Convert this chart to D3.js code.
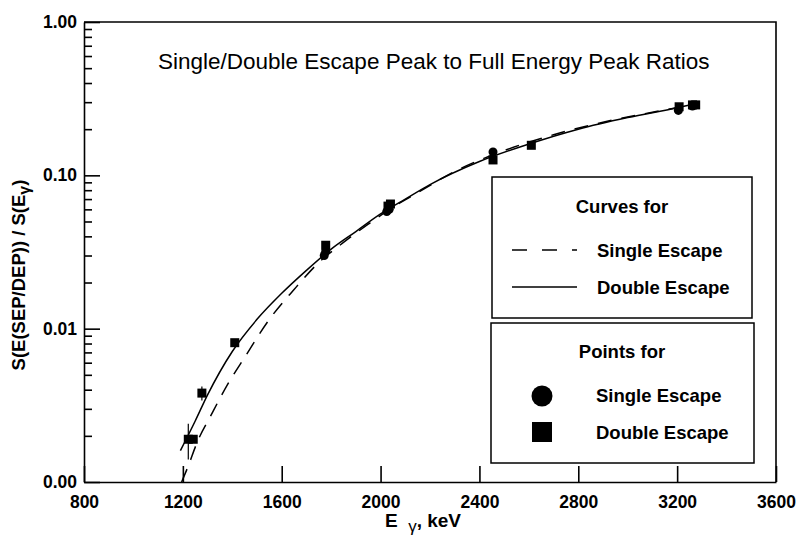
<!DOCTYPE html>
<html>
<head>
<meta charset="utf-8">
<script src="https://cdn.jsdelivr.net/npm/d3@7"></script>
<style>
  body { margin: 0; background: #fff; }
  svg { display: block; font-family: "Liberation Sans", Arial, sans-serif; }
</style>
</head>
<body>
<div id="chart"></div>
<script>
// data
const xTicks = [800, 1200, 1600, 2000, 2400, 2800, 3200, 3600];
const yTicks = [0.001, 0.01, 0.1, 1];
const yTickLabels = ["0.00", "0.01", "0.10", "1.00"];

// fitted curves (keV, ratio)
const curveSingleE = [1195, 1220, 1260, 1310, 1380, 1450, 1550, 1650, 1750, 1850, 1950, 2050, 2150, 2300, 2500, 2700, 2900, 3100, 3260];
const curveSingleR = [0.00100, 0.00125, 0.00185, 0.00265, 0.0043, 0.0065, 0.0115, 0.0180, 0.0270, 0.0365, 0.0480, 0.0620, 0.0770, 0.106, 0.145, 0.184, 0.222, 0.258, 0.288];
const curveDoubleE = [1190, 1250, 1300, 1400, 1500, 1600, 1700, 1800, 1900, 2000, 2100, 2200, 2400, 2600, 2800, 3000, 3200, 3260];
const curveDoubleR = [0.0016, 0.0025, 0.0037, 0.0071, 0.0115, 0.0170, 0.0240, 0.0330, 0.0430, 0.0560, 0.0700, 0.0870, 0.123, 0.160, 0.200, 0.238, 0.276, 0.290];

// measured points
const sepE = [1772, 1778, 2025, 2035, 2455, 3205, 3262];
const sepR = [0.030, 0.032, 0.058, 0.060, 0.142, 0.265, 0.283];
const depE = [1222, 1242, 1277, 1410, 1778, 2030, 2040, 2455, 2610, 3208, 3262, 3275];
const depR = [0.0019, 0.0019, 0.0038, 0.0081, 0.035, 0.063, 0.065, 0.126, 0.157, 0.280, 0.288, 0.288];
const depErr = [0.0005, 0, 0.0004, 0.0003, 0.002, 0.003, 0, 0.004, 0.004, 0.008, 0, 0];

const W = 800, H = 542;
const margin = {top: 22, right: 24, bottom: 60, left: 84};

const svg = d3.select("#chart").append("svg")
    .attr("width", W)
    .attr("height", H);

const x = d3.scaleLinear().domain([800, 3600]).range([margin.left, W - margin.right]);
const y = d3.scaleLog().domain([0.001, 1]).range([H - margin.bottom, margin.top]);

// minor ticks 2..9 in each decade
let minor = [];
[0.001, 0.01, 0.1].forEach(d => {
    for (let k = 2; k <= 9; k++) minor.push(d * k);
});

// y axis, ticks pointing inward
const yAxis = svg.append("g")
    .attr("transform", `translate(${x(800)},0)`)
    .call(d3.axisLeft(y).tickValues(yTicks)
        .tickFormat((d, i) => yTickLabels[i])
        .tickSizeInner(-16).tickSizeOuter(0).tickPadding(7));
yAxis.selectAll("text")
    .attr("font-family", "Liberation Sans, Arial, sans-serif")
    .attr("font-size", 17.5).attr("font-weight", "bold").attr("fill", "#000");

svg.append("g")
    .attr("transform", `translate(${x(800)},0)`)
    .call(d3.axisLeft(y).tickValues(minor).tickFormat("")
        .tickSizeInner(-8).tickSizeOuter(0))
    .select(".domain").remove();

// x axis
const xAxis = svg.append("g")
    .attr("transform", `translate(0,${y(0.001)})`)
    .call(d3.axisBottom(x).tickValues(xTicks).tickFormat(d3.format("d"))
        .tickSizeInner(-16).tickSizeOuter(0).tickPadding(14));
xAxis.selectAll("text")
    .attr("font-family", "Liberation Sans, Arial, sans-serif")
    .attr("font-size", 17.5).attr("font-weight", "bold").attr("fill", "#000");

svg.selectAll(".domain, .tick line").attr("stroke", "#000").attr("stroke-width", 1.6);

// frame top + right
svg.append("path")
    .attr("d", `M${x(800)},${y(1)}H${x(3600)}V${y(0.001)}`)
    .attr("fill", "none").attr("stroke", "#000").attr("stroke-width", 1.6);

// curves
const line = d3.line()
    .x(d => x(d[0]))
    .y(d => y(d[1]))
    .curve(d3.curveMonotoneX);

svg.append("path")
    .datum(d3.zip(curveSingleE, curveSingleR))
    .attr("d", line)
    .attr("fill", "none").attr("stroke", "#000").attr("stroke-width", 1.5)
    .attr("stroke-dasharray", "14,10");

svg.append("path")
    .datum(d3.zip(curveDoubleE, curveDoubleR))
    .attr("d", line)
    .attr("fill", "none").attr("stroke", "#000").attr("stroke-width", 1.5);

// error bars for double escape points
const depData = depE.map((e, i) => ({e: e, r: depR[i], err: depErr[i]}));
svg.selectAll(".err")
    .data(depData.filter(d => d.err > 0))
    .enter().append("line")
    .attr("class", "err")
    .attr("x1", d => x(d.e)).attr("x2", d => x(d.e))
    .attr("y1", d => y(d.r + d.err)).attr("y2", d => y(d.r - d.err))
    .attr("stroke", "#000").attr("stroke-width", 1.2);

// points
svg.selectAll(".sep")
    .data(sepE.map((e, i) => ({e: e, r: sepR[i]})))
    .enter().append("circle")
    .attr("class", "sep")
    .attr("cx", d => x(d.e)).attr("cy", d => y(d.r))
    .attr("r", 4.5).attr("fill", "#000");

const sq = 9;
svg.selectAll(".dep")
    .data(depData)
    .enter().append("rect")
    .attr("class", "dep")
    .attr("x", d => x(d.e) - sq / 2).attr("y", d => y(d.r) - sq / 2)
    .attr("width", sq).attr("height", sq).attr("fill", "#000");

// title
svg.append("text")
    .attr("x", 158).attr("y", 69)
    .attr("font-size", 22.5)
    .text("Single/Double Escape Peak to Full Energy Peak Ratios");

// axis titles
const yTitle = svg.append("text")
    .attr("transform", "translate(25,275) rotate(-90)")
    .attr("text-anchor", "middle")
    .attr("font-size", 18.5).attr("font-weight", "bold");
yTitle.append("tspan").text("S(E(SEP/DEP)) / S(E");
yTitle.append("tspan").attr("baseline-shift", "-30%").attr("font-size", 16).text("γ");
yTitle.append("tspan").text(")");

const xTitle = svg.append("text")
    .attr("x", 423).attr("y", 527)
    .attr("text-anchor", "middle")
    .attr("font-size", 19).attr("font-weight", "bold");
xTitle.append("tspan").text("E\u00a0\u00a0");
xTitle.append("tspan").attr("baseline-shift", "-30%").attr("font-size", 17).attr("font-weight", "normal").text("γ");
xTitle.append("tspan").text(", keV");

// legends
const boxes = [
    {x: 492, y: 177, w: 260, h: 141},
    {x: 491, y: 323, w: 263, h: 140}
];
svg.selectAll(".legbox")
    .data(boxes)
    .enter().append("rect")
    .attr("x", d => d.x).attr("y", d => d.y)
    .attr("width", d => d.w).attr("height", d => d.h)
    .attr("fill", "#fff").attr("stroke", "#000").attr("stroke-width", 1.5);

const legText = (tx, ty, s, anchor) => svg.append("text")
    .attr("x", tx).attr("y", ty)
    .attr("text-anchor", anchor || "start")
    .attr("font-size", 18.5).attr("font-weight", "bold")
    .text(s);

legText(622, 213, "Curves for", "middle");
svg.append("line").attr("x1", 512).attr("x2", 577).attr("y1", 250).attr("y2", 250)
    .attr("stroke", "#000").attr("stroke-width", 1.5).attr("stroke-dasharray", "15,15");
legText(597, 257, "Single Escape");
svg.append("line").attr("x1", 512).attr("x2", 577).attr("y1", 287).attr("y2", 287)
    .attr("stroke", "#000").attr("stroke-width", 1.5);
legText(597, 294, "Double Escape");

legText(622, 358, "Points for", "middle");
svg.append("circle").attr("cx", 542).attr("cy", 396).attr("r", 10.5).attr("fill", "#000");
legText(596, 402, "Single Escape");
svg.append("rect").attr("x", 532).attr("y", 422).attr("width", 20).attr("height", 20).attr("fill", "#000");
legText(596, 439, "Double Escape");
</script>
</body>
</html>
